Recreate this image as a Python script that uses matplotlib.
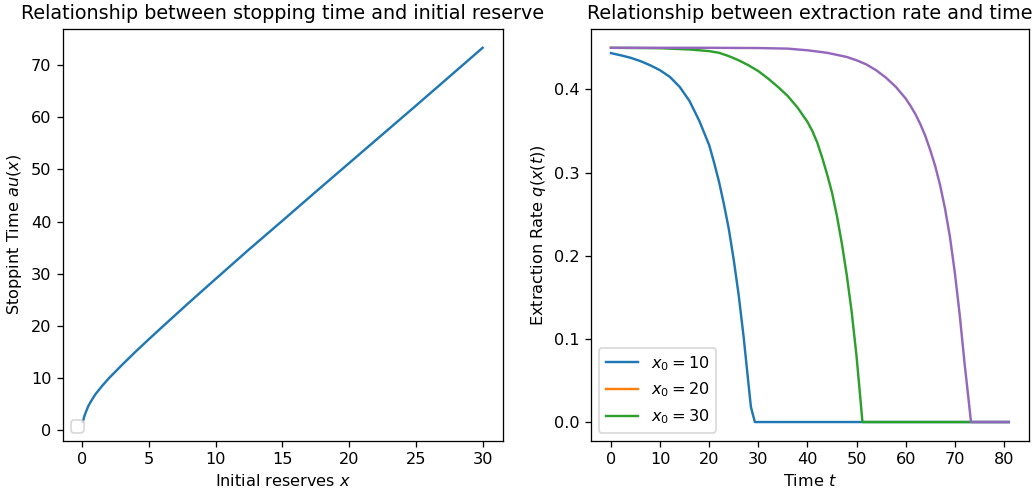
import matplotlib
matplotlib.use("Agg")
import matplotlib.pyplot as plt

# Stopping time vs initial reserves
reserves = [0.05, 0.1, 0.2, 0.35, 0.5, 0.75, 1, 1.5, 2, 3, 4, 5, 6, 8, 10, 12.5, 15,
            17.5, 20, 22.5, 25, 27.5, 30]
stop_time = [1.6, 2.0, 2.9, 3.9, 4.8, 5.9, 6.9, 8.5, 9.95, 12.55, 15.05, 17.45, 19.8,
             24.45, 29.0, 34.65, 40.15, 45.7, 51.2, 56.7, 62.2, 67.75, 73.3]

# Extraction rate vs time for three initial reserves
t_10 = [0, 2, 4, 6, 8, 10, 12, 14, 16, 18, 20, 21, 22, 23, 24, 25, 26, 27, 28, 28.5,
        29.3, 81]
q_10 = [0.4436, 0.441, 0.438, 0.434, 0.429, 0.423, 0.415, 0.403, 0.386, 0.362, 0.333,
        0.312, 0.289, 0.262, 0.232, 0.195, 0.153, 0.103, 0.046, 0.018, 0.0, 0.0]

t_20 = [0, 10, 16, 20, 22, 24, 26, 28, 30, 32, 34, 36, 38, 40, 41, 42, 43, 44, 45, 46,
        47, 48, 49, 50, 50.6, 51.2, 81]
q_20 = [0.45, 0.4495, 0.448, 0.446, 0.444, 0.440, 0.435, 0.429, 0.422, 0.413, 0.403,
        0.392, 0.378, 0.361, 0.350, 0.336, 0.318, 0.298, 0.276, 0.248, 0.215, 0.177,
        0.133, 0.079, 0.04, 0.0, 0.0]

t_30 = [0, 20, 30, 36, 40, 44, 48, 50, 52, 54, 56, 58, 60, 61, 62, 63, 64, 65, 66, 67,
        68, 69, 70, 71, 72, 72.6, 73.3, 81]
q_30 = [0.45, 0.45, 0.4497, 0.449, 0.447, 0.444, 0.439, 0.435, 0.430, 0.423, 0.414,
        0.403, 0.389, 0.380, 0.370, 0.358, 0.344, 0.327, 0.308, 0.285, 0.257, 0.223,
        0.180, 0.129, 0.070, 0.038, 0.0, 0.0]

labels = ["$x_0 = 10$", "$x_0 = 20$", "$x_0 = 30$"]

fig = plt.figure(figsize=(1034 / 116, 493 / 116), dpi=116)
ax1 = fig.add_axes([0.0606, 0.106, 0.4255, 0.835])
ax2 = fig.add_axes([0.5716, 0.106, 0.4233, 0.835])

ax1.plot(reserves, stop_time)
ax1.set_xlabel("Initial reserves $x$")
ax1.set_ylabel("Stoppint Time $au(x)$")
ax1.set_title("Relationship between stopping time and initial reserve", fontsize=11.9)
ax1.legend(loc="lower left")

# each run drew a curve plus an empty companion line, so colours skip
curves = [(t_10, q_10), (t_20, q_20), (t_30, q_30)]
lines = []
for t, q in curves:
    ln, = ax2.plot(t, q)
    extra, = ax2.plot([], [])
    lines.append(ln)
    lines.append(extra)
ax2.legend(lines[:3], labels, loc="lower left")
ax2.set_xlabel("Time $t$")
ax2.set_ylabel("Extraction Rate $q(x(t))$")
ax2.set_title("Relationship between extraction rate and time", fontsize=11.9)

fig.savefig("out.png", dpi=116)
